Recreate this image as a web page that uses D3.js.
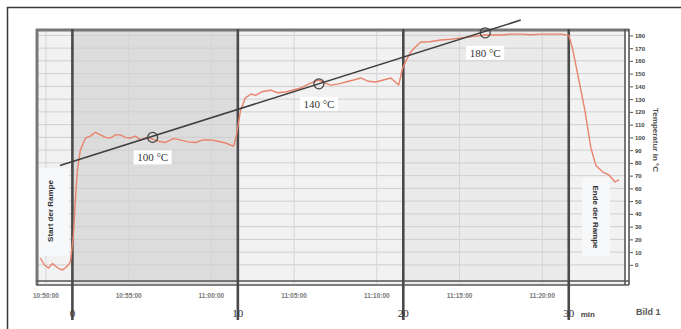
<!DOCTYPE html>
<html>
<head>
<meta charset="utf-8">
<script src="https://cdn.jsdelivr.net/npm/d3@7"></script>
<style>
  html, body { margin: 0; padding: 0; background: #fff; }
  svg { display: block; }
</style>
</head>
<body>
<svg id="chart" width="681" height="329"></svg>
<script>
// measured oven temperature (time in min relative to ramp start, temp in °C)
const timeMin = [-1.94, -1.69, -1.45, -1.2, -1.03, -0.8, -0.6, -0.3, -0.12, 0.06, 0.18, 0.3, 0.48, 0.79, 1.09, 1.39, 1.69, 2.0, 2.3, 2.6, 2.9, 3.2, 3.51, 3.8, 4.11, 4.5, 4.84, 5.2, 5.63, 6.1, 6.53, 7.0, 7.44, 7.9, 8.35, 8.8, 9.26, 9.74, 9.92, 10.16, 10.46, 10.8, 11.07, 11.5, 11.98, 12.4, 12.89, 13.3, 13.79, 14.3, 14.88, 15.2, 15.61, 16.1, 16.52, 17.0, 17.42, 17.9, 18.33, 18.8, 19.24, 19.72, 19.96, 20.2, 20.45, 20.75, 21.05, 21.6, 22.26, 22.9, 23.47, 24.2, 24.92, 25.89, 26.5, 27.1, 27.7, 28.31, 28.9, 29.52, 30.01, 30.25, 30.61, 30.97, 31.34, 31.64, 32.06, 32.43, 32.79, 33.03];
const tempC   = [5.4, -0.1, -2.5, 1.0, -0.9, -3.0, -4.0, -1.0, 2.3, 23, 51, 74, 90, 99.5, 101, 104, 102, 100, 99.5, 102, 102, 100, 99.5, 101, 98, 100, 98.7, 97, 96, 99, 98, 96.5, 96, 98, 98, 97, 95.6, 93, 102, 121, 131, 134, 133, 136, 137, 135, 135.6, 137, 138.7, 142, 145, 143, 141, 142, 143.4, 145, 146.6, 144, 143.4, 145, 146.6, 141, 154.4, 161, 167, 171, 174.8, 175, 176.4, 177, 178, 179, 180.3, 180.3, 181, 181, 180.5, 181, 181, 181, 180, 168.5, 145, 121.5, 91.7, 78, 72.8, 70.5, 65, 66.6];

// set-point ramp (start / end)
const rampTime = [-0.75, 27.1];
const rampTemp = [78, 192];

// marked set-points on the ramp
const markTime = [4.85, 14.9, 24.95];
const markTemp = [100, 142, 182];
const markText = ['100 °C', '140 °C', '180 °C'];

// phase boundaries (min)
const phaseTime = [0, 10, 20, 30];
const phaseText = ['0', '10', '20', '30'];

// clock time labels under the plot
const clockTime = [-1.6, 3.4, 8.4, 13.4, 18.4, 23.4, 28.4];
const clockText = ['10:50:00', '10:55:00', '11:00:00', '11:05:00', '11:10:00', '11:15:00', '11:20:00'];

// right axis ticks
const tempTicks = d3.range(0, 190, 10);

const svg = d3.select('#chart');
const pLeft = 36, pRight = 625, pTop = 29, pBottom = 284;

const x = d3.scaleLinear().domain([-2.2, 33.4]).range([pLeft, pRight]);
const y = d3.scaleLinear().domain([-15, 185]).range([pBottom, pTop]);

// outer frame
svg.append('rect')
  .attr('x', 7.5).attr('y', 7.5)
  .attr('width', 700).attr('height', 400)
  .attr('fill', '#fff')
  .attr('stroke', '#3a3a3a')
  .attr('stroke-width', 1.5);

// plot background and shaded phases
svg.append('rect')
  .attr('x', pLeft).attr('y', pTop)
  .attr('width', pRight - pLeft).attr('height', pBottom - pTop)
  .attr('fill', '#f2f2f2');

svg.append('rect')
  .attr('x', x(0)).attr('y', pTop)
  .attr('width', x(10) - x(0)).attr('height', pBottom - pTop)
  .attr('fill', '#dcdcdc');

svg.append('rect')
  .attr('x', x(20)).attr('y', pTop)
  .attr('width', x(30) - x(20)).attr('height', pBottom - pTop)
  .attr('fill', '#eaeaea');

// grid
svg.append('g')
  .selectAll('line')
  .data(tempTicks)
  .enter()
  .append('line')
  .attr('x1', pLeft).attr('x2', pRight)
  .attr('y1', d => y(d)).attr('y2', d => y(d))
  .attr('stroke', '#cfcfcf')
  .attr('stroke-width', 1);

svg.append('g')
  .selectAll('line')
  .data(clockTime)
  .enter()
  .append('line')
  .attr('x1', d => x(d)).attr('x2', d => x(d))
  .attr('y1', pTop).attr('y2', pBottom)
  .attr('stroke', '#d4d4d4')
  .attr('stroke-width', 1);

// boxes behind the vertical notes
svg.append('rect')
  .attr('x', 39).attr('y', 168).attr('width', 30).attr('height', 88)
  .attr('fill', '#f6f8fa');
svg.append('rect')
  .attr('x', 582).attr('y', 178).attr('width', 28).attr('height', 78)
  .attr('fill', '#f6f8fa');

// plot border (double at right and bottom)
svg.append('line')
  .attr('x1', pLeft).attr('x2', pRight + 4)
  .attr('y1', pTop + 1).attr('y2', pTop + 1)
  .attr('stroke', '#777').attr('stroke-width', 3);
svg.append('line')
  .attr('x1', pLeft + 1).attr('x2', pLeft + 1)
  .attr('y1', pTop).attr('y2', pBottom + 1)
  .attr('stroke', '#777').attr('stroke-width', 3);
[pBottom - 3, pBottom + 1].forEach(v => {
  svg.append('line')
    .attr('x1', pLeft).attr('x2', pRight + 4)
    .attr('y1', v).attr('y2', v)
    .attr('stroke', '#555').attr('stroke-width', 1.6);
});
[pRight, pRight + 4].forEach(v => {
  svg.append('line')
    .attr('x1', v).attr('x2', v)
    .attr('y1', pTop).attr('y2', pBottom + 1)
    .attr('stroke', '#555').attr('stroke-width', 1.6);
});

// phase lines
svg.append('g')
  .selectAll('line')
  .data(phaseTime)
  .enter()
  .append('line')
  .attr('x1', d => x(d)).attr('x2', d => x(d))
  .attr('y1', pTop).attr('y2', 320)
  .attr('stroke', '#4a4a4a')
  .attr('stroke-width', 2.6);

// measured curve
const line = d3.line()
  .x(d => x(d[0]))
  .y(d => y(d[1]));

svg.append('path')
  .datum(d3.zip(timeMin, tempC))
  .attr('d', line)
  .attr('fill', 'none')
  .attr('stroke', '#e8846b')
  .attr('stroke-width', 1.4)
  .attr('stroke-linejoin', 'round');

// ramp
svg.append('path')
  .datum(d3.zip(rampTime, rampTemp))
  .attr('d', line)
  .attr('fill', 'none')
  .attr('stroke', '#3e3e3e')
  .attr('stroke-width', 1.5);

// set-point markers and labels
const marks = svg.append('g')
  .selectAll('g')
  .data(d3.zip(markTime, markTemp, markText))
  .enter()
  .append('g');

marks.append('circle')
  .attr('cx', d => x(d[0]))
  .attr('cy', d => y(d[1]))
  .attr('r', 5)
  .attr('fill', 'none')
  .attr('stroke', '#444')
  .attr('stroke-width', 1.3);

marks.append('rect')
  .attr('x', d => x(d[0]) - 19)
  .attr('y', d => y(d[1]) + 13)
  .attr('width', 38).attr('height', 14)
  .attr('fill', '#fff');

marks.append('text')
  .attr('x', d => x(d[0]))
  .attr('y', d => y(d[1]) + 24)
  .attr('text-anchor', 'middle')
  .style('font-family', '"Liberation Serif", serif')
  .style('font-size', '11px')
  .style('fill', '#333')
  .text(d => d[2]);

// vertical notes
svg.append('text')
  .attr('transform', 'translate(53,211) rotate(-90)')
  .attr('text-anchor', 'middle')
  .style('font-family', '"Liberation Sans", sans-serif')
  .style('font-size', '8px')
  .style('font-weight', 'bold')
  .style('fill', '#333')
  .text('Start der Rampe');

svg.append('text')
  .attr('transform', 'translate(593,217) rotate(90)')
  .attr('text-anchor', 'middle')
  .style('font-family', '"Liberation Sans", sans-serif')
  .style('font-size', '8px')
  .style('font-weight', 'bold')
  .style('fill', '#333')
  .text('Ende der Rampe');

// right temperature axis
const axisR = svg.append('g')
  .attr('transform', `translate(${pRight + 5},0)`)
  .call(d3.axisRight(y).tickValues(tempTicks).tickSize(3).tickPadding(2));
axisR.select('.domain').remove();
axisR.selectAll('text')
  .style('font-family', '"Liberation Sans", sans-serif')
  .style('font-size', '6px')
  .style('font-weight', 'bold')
  .style('fill', '#444');
axisR.selectAll('line').attr('stroke', '#555');

svg.append('text')
  .attr('transform', 'translate(653,140) rotate(90)')
  .attr('text-anchor', 'middle')
  .style('font-family', '"Liberation Sans", sans-serif')
  .style('font-size', '8px')
  .style('font-weight', 'bold')
  .style('fill', '#555')
  .text('Temperatur in °C');

// clock time labels
svg.append('g')
  .selectAll('text')
  .data(d3.zip(clockTime, clockText))
  .enter()
  .append('text')
  .attr('x', d => x(d[0]))
  .attr('y', 298)
  .attr('text-anchor', 'middle')
  .style('font-family', '"Liberation Sans", sans-serif')
  .style('font-size', '6.5px')
  .style('font-weight', 'bold')
  .style('fill', '#777')
  .text(d => d[1]);

// minute labels
svg.append('g')
  .selectAll('text')
  .data(d3.zip(phaseTime, phaseText))
  .enter()
  .append('text')
  .attr('x', d => x(d[0]))
  .attr('y', 317)
  .attr('text-anchor', 'middle')
  .style('font-family', '"Liberation Serif", serif')
  .style('font-size', '11px')
  .style('fill', '#333')
  .text(d => d[1]);

svg.append('text')
  .attr('x', x(30) + 12).attr('y', 317)
  .style('font-family', '"Liberation Sans", sans-serif')
  .style('font-size', '8px')
  .style('font-weight', 'bold')
  .style('fill', '#444')
  .text('min');

svg.append('text')
  .attr('x', 636).attr('y', 315)
  .style('font-family', '"Liberation Sans", sans-serif')
  .style('font-size', '9px')
  .style('font-weight', 'bold')
  .style('fill', '#555')
  .text('Bild 1');
</script>
</body>
</html>
